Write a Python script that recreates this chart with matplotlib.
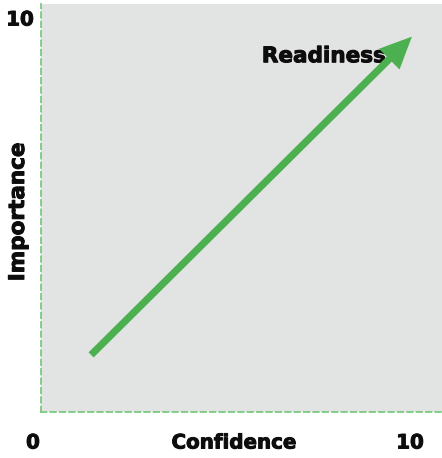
import matplotlib
matplotlib.use("Agg")
import matplotlib.pyplot as plt
import matplotlib.patheffects as pe

# Data
x_label = "Confidence"
y_label = "Importance"
arrow_label = "Readiness"
axis_min, axis_max = 0, 10
arrow_start = (1.25, 1.4)
arrow_end = (9.25, 9.2)
label_pos = (7.05, 8.72)

fig = plt.figure(figsize=(4.42, 4.58), dpi=100)
ax = fig.add_axes([41/442, 1 - 412/458, (442-41)/442, (412-4)/458])
ax.set_xlim(axis_min, axis_max)
ax.set_ylim(axis_min, axis_max)
ax.set_facecolor("#e2e4e3")
for s in ["top", "right"]:
    ax.spines[s].set_visible(False)
for s in ["left", "bottom"]:
    ax.spines[s].set_color("#7ec982")
    ax.spines[s].set_linestyle((0, (3, 2.2)))
    ax.spines[s].set_linewidth(1.3)
ax.set_xticks([])
ax.set_yticks([])

col = "#0d0d0d"
fkw = dict(fontweight="bold", fontsize=14.3, color=col, family="DejaVu Sans",
           path_effects=[pe.withStroke(linewidth=0.7, foreground=col)])

ax.text(label_pos[0], label_pos[1], arrow_label, ha="center", va="center",
        zorder=2, **{**fkw, "fontsize": 15.5})

ax.annotate("", xy=arrow_end, xytext=arrow_start, zorder=5,
            arrowprops=dict(arrowstyle="simple,head_length=1.15,head_width=1.05,tail_width=0.26",
                            mutation_scale=20, fc="#4caf50", ec="none", lw=0,
                            shrinkA=0, shrinkB=0))

fig.text(20/442, 1 - 20/458, str(axis_max), ha="center", va="center", **fkw)
fig.text(33/442, 1 - 443/458, str(axis_min), ha="center", va="center", **fkw)
fig.text(410/442, 1 - 443/458, str(axis_max), ha="center", va="center", **fkw)
fig.text(234/442, 1 - 443/458, x_label, ha="center", va="center", **fkw)
fig.text(18/442, 1 - 212/458, y_label, ha="center", va="center", rotation=90,
         **{**fkw, "fontsize": 15.5})

fig.savefig("out.png", dpi=100)
